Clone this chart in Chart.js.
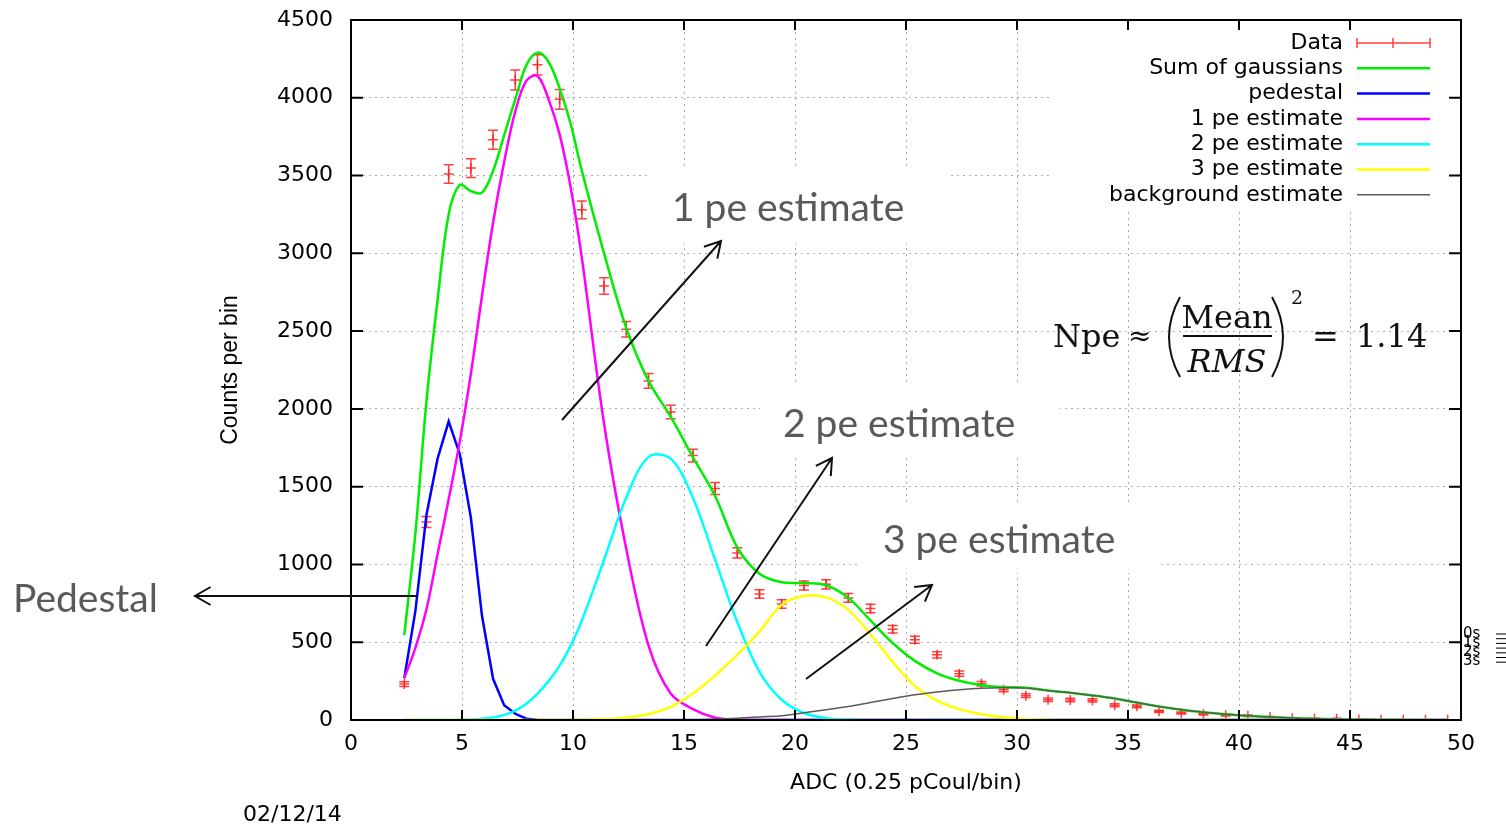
<!DOCTYPE html>
<html>
<head>
<meta charset="utf-8">
<script src="https://cdn.jsdelivr.net/npm/chart.js@4.4.1/dist/chart.umd.min.js"></script>
<style>
  html, body { margin: 0; padding: 0; background: #fff; }
  #wrap { width: 1506px; height: 826px; }
</style>
</head>
<body>
<div id="wrap"><canvas id="chart" width="1506" height="826"></canvas></div>
<script>
// --- data ---
const dataX = [2.4, 3.4, 4.4, 5.4, 6.4, 7.4, 8.4, 9.4, 10.4, 11.4, 12.4, 13.4, 14.4, 15.4, 16.4, 17.4,
    18.4, 19.4, 20.4, 21.4, 22.4, 23.4, 24.4, 25.4, 26.4, 27.4, 28.4, 29.4, 30.4, 31.4, 32.4, 33.4,
    34.4, 35.4, 36.4, 37.4, 38.4, 39.4, 40.4, 41.4, 42.4, 43.4, 44.4, 45.4, 46.4, 47.4, 48.4, 49.4];
const dataCounts = [231, 1273, 3510, 3548, 3730, 4114, 4212, 3990, 3280, 2790, 2512, 2180, 1980, 1700, 1488, 1074,
    810, 746, 865, 872, 785, 717, 584, 516, 419, 298, 233, 195, 156, 130, 129, 126,
    95, 88, 56, 45, 38, 30, 27, 19, 11, 9, 8, 4, 1, 1, 1, 1];
const dataErrors = [15, 36, 59, 60, 61, 64, 65, 63, 57, 53, 50, 47, 44, 41, 39, 33,
    28, 27, 29, 30, 28, 27, 24, 23, 20, 17, 15, 14, 12, 11, 11, 11,
    10, 9, 7, 7, 6, 5, 5, 4, 3, 3, 3, 2, 1, 1, 1, 1];

const fitX = [2.4, 2.9, 3.4, 3.9, 4.4, 4.9, 5.4, 5.9, 6.4, 6.9, 7.4, 7.9, 8.4, 8.9, 9.4, 9.9, 10.4,
    11.4, 12.4, 13.4, 14.4, 15.4, 16.4, 17.4, 18.4, 19.4, 20.4, 21.4, 22.4, 23.4, 24.4, 25.4, 26.4,
    27.4, 28.4, 29.4, 30.4, 31.4, 32.4, 33.4, 34.4, 35.4, 36.4, 37.4, 38.4, 39.4, 40.4, 41.4, 42.4,
    43.4, 44.4, 45.4, 46.4, 47.4, 48.4, 49.4];
const sumFit = [546, 1200, 2050, 2700, 3250, 3440, 3400, 3390, 3530, 3760, 3990, 4210, 4290, 4230, 4060, 3830, 3530,
    3000, 2520, 2180, 1950, 1690, 1440, 1110, 940, 885, 880, 866, 785, 640, 495, 380, 300,
    252, 224, 212, 208, 190, 175, 158, 138, 112, 87, 66, 50, 37, 27, 19, 13,
    8, 5, 3, 2, 1, 0, 0];
const pedestalFit = [268, 700, 1320, 1680, 1920, 1710, 1300, 670, 265, 95, 40, 8, 1, 0, 0, 0, 0,
    0, 0, 0, 0, 0, 0, 0, 0, 0, 0, 0, 0, 0, 0, 0, 0,
    0, 0, 0, 0, 0, 0, 0, 0, 0, 0, 0, 0, 0, 0, 0, 0,
    0, 0, 0, 0, 0, 0, 0];
const onePeFit = [268, 464, 712, 1067, 1419, 1791, 2226, 2726, 3197, 3588, 3913, 4110, 4140, 3990, 3763, 3420, 2969,
    1903, 1100, 480, 170, 70, 15, 3, 0, 0, 0, 0, 0, 0, 0, 0, 0,
    0, 0, 0, 0, 0, 0, 0, 0, 0, 0, 0, 0, 0, 0, 0, 0,
    0, 0, 0, 0, 0, 0, 0];
const twoPeFit = [0, 0, 0, 0, 0, 0, 3, 8, 16, 32, 60, 105, 170, 250, 350, 480, 640,
    1030, 1430, 1690, 1680, 1429, 1030, 630, 310, 130, 45, 12, 3, 0, 0, 0, 0,
    0, 0, 0, 0, 0, 0, 0, 0, 0, 0, 0, 0, 0, 0, 0, 0,
    0, 0, 0, 0, 0, 0, 0];
const threePeFit = [0, 0, 0, 0, 0, 0, 0, 0, 0, 0, 0, 0, 1, 1, 2, 2, 3,
    6, 15, 38, 85, 170, 285, 420, 568, 740, 797, 788, 708, 551, 374, 218, 125,
    70, 37, 17, 6, 2, 0, 0, 0, 0, 0, 0, 0, 0, 0, 0, 0,
    0, 0, 0, 0, 0, 0, 0];
const backgroundFit = [0, 0, 0, 0, 0, 0, 0, 0, 0, 0, 0, 0, 0, 0, 0, 0, 0,
    0, 0, 0, 0, 0, 5, 12, 20, 27, 46, 66, 87, 112, 138, 162, 180,
    194, 204, 207, 205, 188, 175, 158, 138, 112, 87, 66, 50, 37, 27, 19, 13,
    8, 5, 3, 2, 1, 0, 0];

const xTickValues = [0, 5, 10, 15, 20, 25, 30, 35, 40, 45, 50];
const yTickValues = [0, 500, 1000, 1500, 2000, 2500, 3000, 3500, 4000, 4500];

const seriesLabels = ['Data', 'Sum of gaussians', 'pedestal', '1 pe estimate', '2 pe estimate', '3 pe estimate', 'background estimate'];
const seriesColors = ['rgba(255,30,30,0.85)', '#00ee00', '#0000ff', '#ff00ff', '#00ffff', '#ffff00', '#5a5a5a'];

const GNU_FONT = 'DejaVu Sans';
const NOTE_FONT = 'Lato';
const NOTE_COLOR = '#595959';

function toPoints(xs, ys) {
    return xs.map((x, i) => ({ x: x, y: ys[i] }));
}

function fitDataset(idx, values, width, order, straight) {
    return {
        label: seriesLabels[idx],
        data: toPoints(fitX, values),
        borderColor: seriesColors[idx],
        borderWidth: width,
        pointRadius: 0,
        fill: false,
        tension: straight ? 0 : 0.35,
        order: order
    };
}

function drawArrow(ctx, x1, y1, x2, y2) {
    const ang = Math.atan2(y2 - y1, x2 - x1);
    const len = 18, spread = Math.PI / 6;
    ctx.beginPath();
    ctx.moveTo(x1, y1);
    ctx.lineTo(x2, y2);
    ctx.moveTo(x2 - len * Math.cos(ang - spread), y2 - len * Math.sin(ang - spread));
    ctx.lineTo(x2, y2);
    ctx.lineTo(x2 - len * Math.cos(ang + spread), y2 - len * Math.sin(ang + spread));
    ctx.stroke();
}

// gnuplot-like decorations: blank key/label areas, error bars, frame, inward ticks, key, notes
const decorPlugin = {
    id: 'decor',
    beforeDatasetsDraw(chart) {
        const ctx = chart.ctx;
        ctx.save();
        ctx.fillStyle = '#fff';
        ctx.fillRect(1053, 30, 400, 178);   // key
        ctx.fillRect(647, 168, 301, 75);    // 1 pe label
        ctx.fillRect(760, 385, 300, 71);    // 2 pe label
        ctx.fillRect(860, 505, 298, 68);    // 3 pe label
        ctx.restore();
    },
    afterDatasetDraw(chart, args) {
        if (args.index !== 0) return;
        const ctx = chart.ctx;
        const xs = chart.scales.x, ys = chart.scales.y;
        ctx.save();
        ctx.strokeStyle = seriesColors[0];
        ctx.lineWidth = 1.5;
        dataX.forEach((xv, i) => {
            const px = xs.getPixelForValue(xv);
            const top = ys.getPixelForValue(dataCounts[i] + dataErrors[i]);
            const bot = ys.getPixelForValue(Math.max(0, dataCounts[i] - dataErrors[i]));
            ctx.beginPath();
            ctx.moveTo(px, top); ctx.lineTo(px, bot);
            ctx.moveTo(px - 5, top); ctx.lineTo(px + 5, top);
            ctx.moveTo(px - 5, bot); ctx.lineTo(px + 5, bot);
            ctx.stroke();
        });
        ctx.restore();
    },
    afterDraw(chart) {
        const ctx = chart.ctx;
        const a = chart.chartArea;
        const xs = chart.scales.x, ys = chart.scales.y;
        ctx.save();

        // frame + inward ticks (mirrored)
        ctx.strokeStyle = '#000';
        ctx.lineWidth = 2;
        ctx.strokeRect(a.left, a.top, a.right - a.left, a.bottom - a.top);
        ctx.beginPath();
        xTickValues.forEach(v => {
            const px = xs.getPixelForValue(v);
            ctx.moveTo(px, a.bottom); ctx.lineTo(px, a.bottom - 10);
            ctx.moveTo(px, a.top); ctx.lineTo(px, a.top + 10);
        });
        yTickValues.forEach(v => {
            const py = ys.getPixelForValue(v);
            ctx.moveTo(a.left, py); ctx.lineTo(a.left + 12, py);
            ctx.moveTo(a.right, py); ctx.lineTo(a.right - 12, py);
        });
        ctx.stroke();

        // key
        ctx.font = '22px "' + GNU_FONT + '"';
        ctx.textAlign = 'right';
        ctx.textBaseline = 'middle';
        ctx.fillStyle = '#000';
        seriesLabels.forEach((lab, i) => {
            const y = 43 + i * 25.3;
            ctx.fillText(lab, 1343, y);
            ctx.strokeStyle = seriesColors[i];
            ctx.lineWidth = i === 6 ? 1.5 : 2.5;
            ctx.beginPath();
            ctx.moveTo(1357, y); ctx.lineTo(1430, y);
            if (i === 0) {
                ctx.lineWidth = 1.5;
                ctx.moveTo(1357, y - 5); ctx.lineTo(1357, y + 5);
                ctx.moveTo(1430, y - 5); ctx.lineTo(1430, y + 5);
                ctx.moveTo(1393, y - 5); ctx.lineTo(1393, y + 5);
            }
            ctx.stroke();
        });

        // date stamp and stray labels at the right border
        ctx.textAlign = 'left';
        ctx.fillText('02/12/14', 243, 815);
        ctx.font = '15px "' + GNU_FONT + '"';
        ['0s', '1s', '2s', '3s'].forEach((t, i) => ctx.fillText(t, 1463, 634 + i * 9));
        ctx.strokeStyle = '#000';
        ctx.lineWidth = 1;
        ctx.beginPath();
        for (let k = 0; k < 7; k++) {
            ctx.moveTo(1496, 634 + k * 4.7); ctx.lineTo(1506, 634 + k * 4.7);
        }
        ctx.stroke();

        // annotation text
        ctx.font = '39px "' + NOTE_FONT + '"';
        ctx.fillStyle = NOTE_COLOR;
        ctx.textBaseline = 'alphabetic';
        ctx.fillText('1 pe estimate', 672, 221);
        ctx.fillText('2 pe estimate', 783, 437);
        ctx.fillText('3 pe estimate', 883, 553);
        ctx.fillText('Pedestal', 13, 612);

        // arrows
        ctx.strokeStyle = '#111';
        ctx.lineWidth = 2;
        drawArrow(ctx, 562, 420, 721, 241);
        drawArrow(ctx, 706, 646, 832, 458);
        drawArrow(ctx, 806, 679, 932, 585);
        drawArrow(ctx, 418, 596, 195, 596);

        // Npe formula
        ctx.fillStyle = '#111';
        ctx.font = '32px "DejaVu Serif"';
        ctx.textAlign = 'left';
        ctx.fillText('Npe', 1053, 347);
        ctx.font = '28px "DejaVu Serif"';
        ctx.fillText('\u2248', 1128, 345);
        ctx.font = '32px "DejaVu Serif"';
        ctx.fillText('=', 1312, 347);
        ctx.fillText('1.14', 1356, 347);
        ctx.textAlign = 'center';
        ctx.fillText('Mean', 1227, 328);
        ctx.font = 'italic 32px "DejaVu Serif"';
        ctx.fillText('RMS', 1227, 372);
        ctx.font = '19px "DejaVu Serif"';
        ctx.fillText('2', 1297, 304);
        ctx.fillRect(1183, 335, 89, 2);
        ctx.strokeStyle = '#111';
        ctx.lineWidth = 2;
        ctx.beginPath();
        ctx.moveTo(1180, 297); ctx.quadraticCurveTo(1158, 337, 1180, 377);
        ctx.moveTo(1272, 297); ctx.quadraticCurveTo(1294, 337, 1272, 377);
        ctx.stroke();

        ctx.restore();
    }
};

const plainNumber = v => String(v);

const ctx = document.getElementById('chart').getContext('2d');
new Chart(ctx, {
    type: 'line',
    data: {
        datasets: [
            {
                label: seriesLabels[0],
                data: toPoints(dataX, dataCounts),
                showLine: false,
                pointStyle: 'cross',
                pointRadius: 5,
                pointBorderWidth: 1.5,
                borderColor: seriesColors[0],
                backgroundColor: seriesColors[0],
                order: 7
            },
            fitDataset(1, sumFit, 2.5, 6, false),
            fitDataset(2, pedestalFit, 2.5, 5, true),
            fitDataset(3, onePeFit, 2.5, 4, false),
            fitDataset(4, twoPeFit, 2.5, 3, false),
            fitDataset(5, threePeFit, 2.5, 2, false),
            fitDataset(6, backgroundFit, 1.5, 1, false)
        ]
    },
    options: {
        responsive: false,
        animation: false,
        events: [],
        layout: { padding: { left: 0, right: 45, top: 20, bottom: 0 } },
        plugins: { legend: { display: false }, tooltip: { enabled: false } },
        scales: {
            x: {
                type: 'linear', min: 0, max: 50,
                afterBuildTicks: s => { s.ticks = xTickValues.map(v => ({ value: v })); },
                afterFit: s => { s.height = 106; },
                ticks: { color: '#000', font: { family: GNU_FONT, size: 22 }, padding: 11, maxRotation: 0, autoSkip: false, callback: plainNumber },
                grid: { color: '#aaaaaa', lineWidth: 1, drawTicks: false },
                border: { display: false, dash: [2, 4] },
                title: {
                    display: true, text: 'ADC (0.25 pCoul/bin)', color: '#000',
                    font: { family: GNU_FONT, size: 22 }, padding: { top: 0, bottom: 30 }
                }
            },
            y: {
                min: 0, max: 4500,
                afterBuildTicks: s => { s.ticks = yTickValues.map(v => ({ value: v })); },
                afterFit: s => { s.width = 351; s.paddingTop = 10; s.paddingBottom = 10; },
                ticks: { color: '#000', font: { family: GNU_FONT, size: 22 }, padding: 18, callback: plainNumber },
                grid: { color: '#aaaaaa', lineWidth: 1, drawTicks: false },
                border: { display: false, dash: [2, 4] },
                title: {
                    display: true, text: 'Counts per bin', color: '#000',
                    font: { family: 'Liberation Sans', size: 23 }, padding: { top: 217, bottom: 0 }
                }
            }
        }
    },
    plugins: [decorPlugin]
});
</script>
</body>
</html>
